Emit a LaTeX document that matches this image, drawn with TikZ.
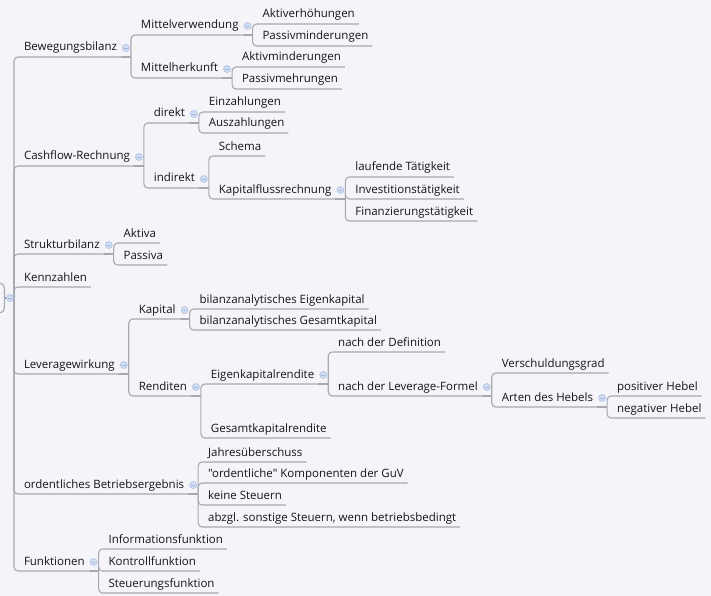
\documentclass[tikz,border=0pt]{standalone}
\usepackage{fontspec}
\setmainfont{Open Sans}[Ligatures=TeXOff]
\usepackage{tikz}
\usetikzlibrary{calc}
\definecolor{mapbg}{HTML}{F4F4F9}
\definecolor{mapline}{HTML}{A8A8B0}
\definecolor{maptext}{HTML}{161616}
\definecolor{foldfill}{HTML}{D2DEF2}
\definecolor{folddraw}{HTML}{A3B8DE}
\tikzset{
  topic/.style={anchor=south west,inner xsep=4pt,inner ysep=3pt,outer sep=0pt,
                text height=9pt,text depth=3pt,text=maptext,
                font=\fontsize{11.5}{13}\selectfont},
  branch/.style={draw=mapline,line width=1.1pt,rounded corners=4pt},
  stem/.style={draw=mapline,line width=1.1pt},
  fold/.style={circle,minimum size=7pt,inner sep=0pt,fill=foldfill,draw=folddraw,line width=0.5pt,
               path picture={\draw[folddraw,line width=0.7pt]
                 ([xshift=-1.8pt]path picture bounding box.center) -- ([xshift=1.8pt]path picture bounding box.center);}},
  rootbox/.style={draw=mapline,line width=1.1pt,rounded corners=5pt,minimum width=40pt,minimum height=30pt},
}

\begin{document}
\begin{tikzpicture}[x=1pt,y=-1pt]
  \fill[mapbg] (0,0) rectangle (711,596);
  \useasboundingbox (0,0) rectangle (711,596);
  \clip (0,0) rectangle (711,596);
  % root
  \node[rootbox,anchor=east] (root) at (5,298) {};
  \coordinate (root-s) at (14,298);
  % main branches
  \node[topic] (bew) at ($(root-s)+(6,-241)$) {Bewegungsbilanz};
  \node[topic] (cash) at ($(root-s)+(6,-132)$) {Cashflow-Rechnung};
  \node[topic] (struk) at ($(root-s)+(6,-44)$) {Strukturbilanz};
  \node[topic] (kenn) at ($(root-s)+(6,-11)$) {Kennzahlen};
  \node[topic] (lev) at ($(root-s)+(6,76)$) {Leveragewirkung};
  \node[topic] (obe) at ($(root-s)+(6,196)$) {ordentliches Betriebsergebnis};
  \node[topic] (funk) at ($(root-s)+(6,273)$) {Funktionen};
  \foreach \p in {bew,cash,struk,lev,obe,funk}
    \coordinate (\p-s) at ([xshift=10pt]\p.south east);
  % Bewegungsbilanz
  \node[topic] (mv) at ($(bew-s)+(6,-22)$) {Mittelverwendung};
  \node[topic] (mh) at ($(bew-s)+(6,21)$) {Mittelherkunft};
  \coordinate (mv-s) at ([xshift=10pt]mv.south east);
  \coordinate (mh-s) at ([xshift=10pt]mh.south east);
  \node[topic] (akte) at ($(mv-s)+(6,-11)$) {Aktiverhöhungen};
  \node[topic] (pasm) at ($(mv-s)+(6,11)$) {Passivminderungen};
  \node[topic] (aktm) at ($(mh-s)+(6,-11)$) {Aktivminderungen};
  \node[topic] (pasme) at ($(mh-s)+(6,11)$) {Passivmehrungen};
  % Cashflow-Rechnung
  \node[topic] (dir) at ($(cash-s)+(6,-43)$) {direkt};
  \node[topic] (ind) at ($(cash-s)+(6,22)$) {indirekt};
  \coordinate (dir-s) at ([xshift=10pt]dir.south east);
  \coordinate (ind-s) at ([xshift=10pt]ind.south east);
  \node[topic] (einz) at ($(dir-s)+(6,-11)$) {Einzahlungen};
  \node[topic] (ausz) at ($(dir-s)+(6,10)$) {Auszahlungen};
  \node[topic] (schema) at ($(ind-s)+(6,-32)$) {Schema};
  \node[topic] (kfr) at ($(ind-s)+(6,11)$) {Kapitalflussrechnung};
  \coordinate (kfr-s) at ([xshift=10pt]kfr.south east);
  \node[topic] (lauf) at ($(kfr-s)+(6,-22)$) {laufende Tätigkeit};
  \node[topic] (inv) at ($(kfr-s)+(6,0)$) {Investitionstätigkeit};
  \node[topic] (fin) at ($(kfr-s)+(6,22)$) {Finanzierungstätigkeit};
  % Strukturbilanz
  \node[topic] (aktiva) at ($(struk-s)+(6,-11)$) {Aktiva};
  \node[topic] (passiva) at ($(struk-s)+(6,11)$) {Passiva};
  % Leveragewirkung
  \node[topic] (kap) at ($(lev-s)+(6,-55)$) {Kapital};
  \node[topic] (rend) at ($(lev-s)+(6,22)$) {Renditen};
  \coordinate (kap-s) at ([xshift=10pt]kap.south east);
  \coordinate (rend-s) at ([xshift=10pt]rend.south east);
  \node[topic] (bek) at ($(kap-s)+(6,-10)$) {bilanzanalytisches Eigenkapital};
  \node[topic] (bgk) at ($(kap-s)+(6,11)$) {bilanzanalytisches Gesamtkapital};
  \node[topic] (ekr) at ($(rend-s)+(6,-12)$) {Eigenkapitalrendite};
  \node[topic] (gkr) at ($(rend-s)+(6,42)$) {Gesamtkapitalrendite};
  \coordinate (ekr-s) at ([xshift=10pt]ekr.south east);
  \node[topic] (ndd) at ($(ekr-s)+(6,-32)$) {nach der Definition};
  \node[topic] (nlf) at ($(ekr-s)+(6,12)$) {nach der Leverage-Formel};
  \coordinate (nlf-s) at ([xshift=10pt]nlf.south east);
  \node[topic] (vsg) at ($(nlf-s)+(6,-23)$) {Verschuldungsgrad};
  \node[topic] (adh) at ($(nlf-s)+(6,11)$) {Arten des Hebels};
  \coordinate (adh-s) at ([xshift=10pt]adh.south east);
  \node[topic] (pos) at ($(adh-s)+(6,-11)$) {positiver Hebel};
  \node[topic] (neg) at ($(adh-s)+(6,11)$) {negativer Hebel};
  % ordentliches Betriebsergebnis
  \node[topic] (jahr) at ($(obe-s)+(6,-32)$) {Jahresüberschuss};
  \node[topic] (ordk) at ($(obe-s)+(6,-11)$) {"ordentliche" Komponenten der GuV};
  \node[topic] (keine) at ($(obe-s)+(6,11)$) {keine Steuern};
  \node[topic] (abzgl) at ($(obe-s)+(6,33)$) {abzgl. sonstige Steuern, wenn betriebsbedingt};
  % Funktionen
  \node[topic] (info) at ($(funk-s)+(6,-22)$) {Informationsfunktion};
  \node[topic] (kontr) at ($(funk-s)+(6,0)$) {Kontrollfunktion};
  \node[topic] (steu) at ($(funk-s)+(6,22)$) {Steuerungsfunktion};
  % connectors
  \draw[stem] (root.east) -- (root-s);
  \foreach \c in {bew,cash,struk,kenn,lev,obe,funk} \draw[branch] (root-s) |- (\c.south east);
  \foreach \p/\kids in {bew/{mv,mh},mv/{akte,pasm},mh/{aktm,pasme},cash/{dir,ind},dir/{einz,ausz},
      ind/{schema,kfr},kfr/{lauf,inv,fin},struk/{aktiva,passiva},lev/{kap,rend},kap/{bek,bgk},
      rend/{ekr,gkr},ekr/{ndd,nlf},nlf/{vsg,adh},adh/{pos,neg},obe/{jahr,ordk,keine,abzgl},funk/{info,kontr,steu}}{
    \draw[stem] (\p.south east) -- (\p-s);
    \foreach \c in \kids \draw[branch] (\p-s) |- (\c.south east);
  }
  % fold markers
  \node[fold] (root-f) at (10,298) {};
  \foreach \p in {bew,mv,mh,cash,dir,ind,kfr,struk,lev,kap,rend,ekr,nlf,adh,obe,funk}
    \node[fold] (\p-f) at ([xshift=5pt]\p.east) {};
\end{tikzpicture}
\end{document}
